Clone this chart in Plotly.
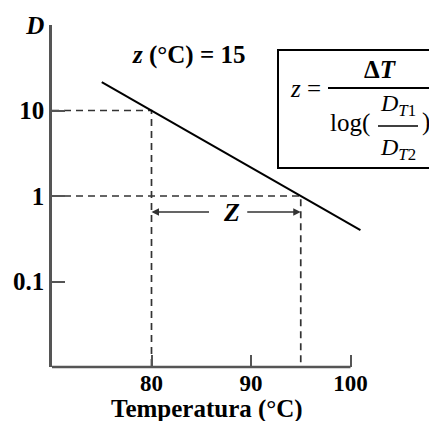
import plotly.graph_objects as go

# ---- data ----
temp_line = [75, 101]          # temperature (°C) of the line end points
d_line = [21.5, 0.4]           # D value at the line end points
ref_temps = [80, 95]           # reference temperatures (T1, T2)
ref_d = [10, 1]                # D values at T1, T2
z_value = 15
x_ticks = [80, 90, 100]
x_ticklabels = ["80", "90", "100"]
y_ticks = [0.1, 1, 10, 100]
y_ticklabels = ["0.1", "1", "10", "<i>D</i>"]
x_min, y_min = 70, 0.01

# ---- layout geometry (page body has an 8px offset) ----
W, H = 437, 421
OFF = 8
L, R, T, B = 44, 8, 17, 62
pw, ph = W - L - R, H - T - B
PX_PER_UNIT = 9.95


def px(x):  # screen x -> paper
    return (x - OFF - L) / pw


def py(y):  # screen y -> paper
    return (H - B - (y - OFF)) / ph


FONT = "Liberation Serif"
AX = "#555555"

fig = go.Figure()

# dashed reference lines
for t, d in zip(ref_temps, ref_d):
    fig.add_trace(go.Scatter(x=[x_min, t, t], y=[d, d, y_min], mode="lines",
                             line=dict(color="#333333", width=1.7, dash="7px,5px"),
                             hoverinfo="skip", showlegend=False))

# main D line
fig.add_trace(go.Scatter(x=temp_line, y=d_line, mode="lines",
                         line=dict(color="black", width=2),
                         showlegend=False, hoverinfo="skip"))

shapes = []
# x axis line (only up to 100)
shapes.append(dict(type="line", xref="x", yref="paper", x0=x_min, x1=x_ticks[-1],
                   y0=0, y1=0, line=dict(color=AX, width=2.5)))
# formula box
shapes.append(dict(type="rect", xref="paper", yref="paper", x0=px(278), x1=px(435),
                   y0=py(168), y1=py(50), line=dict(color="black", width=2)))
shapes.append(dict(type="line", xref="paper", yref="paper", x0=px(328), x1=px(430),
                   y0=py(88), y1=py(88), line=dict(color="black", width=2)))
shapes.append(dict(type="line", xref="paper", yref="paper", x0=px(378), x1=px(418),
                   y0=py(126), y1=py(126), line=dict(color="black", width=1.6)))

ann = []


def txt(s, x, y, size=20, **kw):
    d = dict(text=s, xref="paper", yref="paper", x=px(x), y=py(y), showarrow=False,
             xanchor="center", yanchor="middle", font=dict(family=FONT, size=size, color="black"))
    d.update(kw)
    ann.append(d)


txt("<b>Temperatura (°C)</b>", 207, 409, size=25)
txt(f"<b><i>z</i> (°C) = {z_value}</b>", 188, 55, size=25)
txt("<b><i>Z</i></b>", 231, 212, size=26)

# Z arrows
ann.append(dict(x=ref_temps[0], xref="x", y=py(212), yref="paper", ax=59, ay=0,
                text="", showarrow=True, arrowhead=2, arrowsize=1, arrowwidth=1.5,
                arrowcolor="#333333"))
ann.append(dict(x=ref_temps[1], xref="x", y=py(212), yref="paper", ax=-55, ay=0,
                text="", showarrow=True, arrowhead=2, arrowsize=1, arrowwidth=1.5,
                arrowcolor="#333333"))

# formula
txt("<i>z</i> =", 305, 88, size=25)
txt("<b>Δ<i>T</i></b>", 380, 69, size=25)
txt("log(", 350, 123, size=25)
txt(")", 426, 122, size=25)
txt("<i>D</i><sub><i>T</i>1</sub>", 398, 105, size=24)
txt("<i>D</i><sub><i>T</i>2</sub>", 398, 149, size=24)

fig.update_layout(
    width=W, height=H,
    margin=dict(l=L, r=R, t=T, b=B, pad=0),
    paper_bgcolor="white", plot_bgcolor="white",
    shapes=shapes, annotations=ann,
    xaxis=dict(range=[x_min, x_min + pw / PX_PER_UNIT], tickvals=x_ticks,
               ticktext=[f"<b>{t}</b>" for t in x_ticklabels],
               ticks="inside", ticklen=12, tickwidth=2, tickcolor=AX,
               showline=False, showgrid=False, zeroline=False, automargin=False,
               tickfont=dict(family=FONT, size=23, color="black")),
    yaxis=dict(type="log", range=[-2, 2], tickvals=y_ticks,
               ticktext=[f"<b>{t}</b>" for t in y_ticklabels],
               ticks="inside", ticklen=13, tickwidth=2, tickcolor=AX,
               showline=True, linecolor=AX, linewidth=2.5, mirror=False,
               showgrid=False, zeroline=False, automargin=False,
               tickfont=dict(family=FONT, size=25, color="black")),
)

fig.write_html("out.html")
